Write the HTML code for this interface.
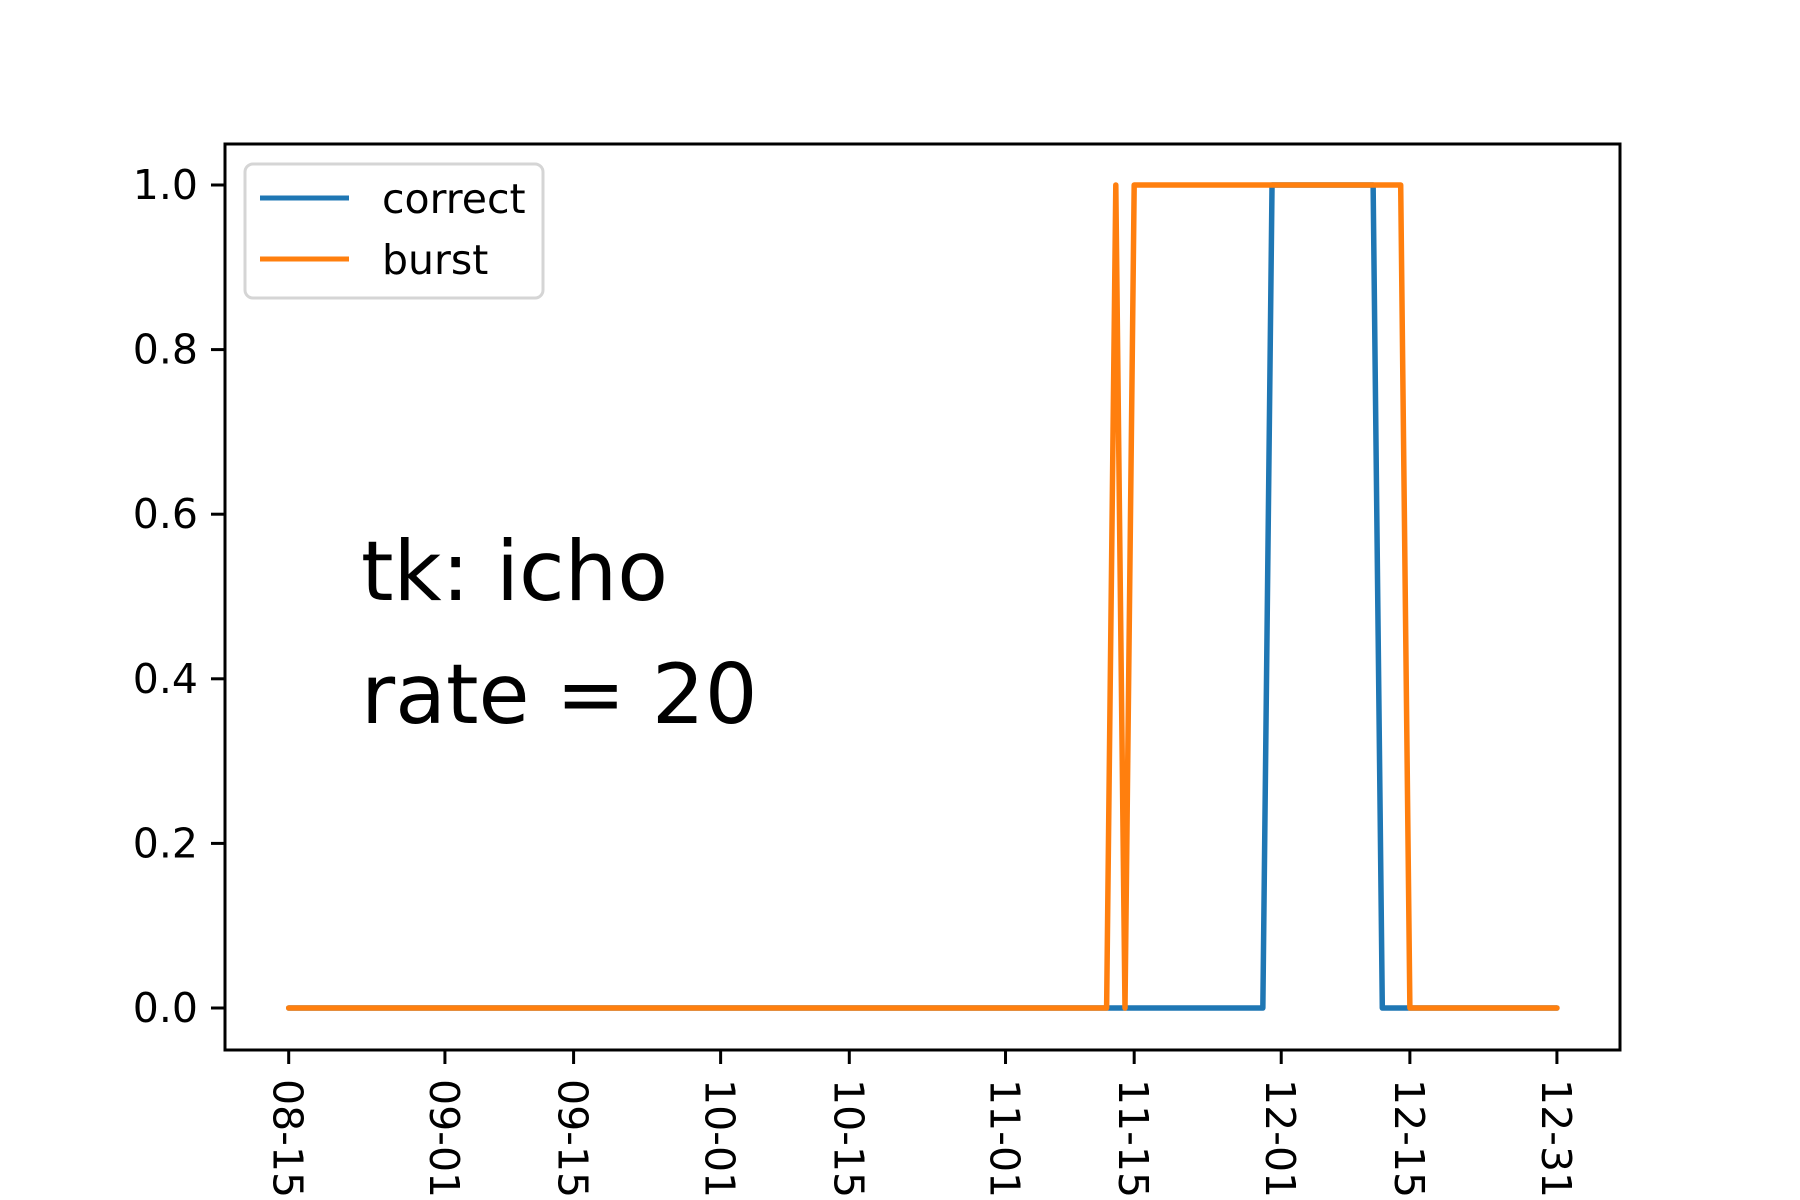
<!DOCTYPE html>
<html><head><meta charset="utf-8"><style>body{margin:0;background:#fff}svg{display:block}text{font-family:"DejaVu Sans","Liberation Sans",sans-serif}</style></head>
<body>
<svg id="chart" width="1800" height="1200" viewBox="0 0 1800 1200">
<rect x="0" y="0" width="1800" height="1200" fill="#fff"/>
<g id="plot"></g>
<rect x="225" y="144" width="1395" height="906" fill="none" stroke="#000" stroke-width="3"/>
<g>
<rect x="245" y="164" width="298" height="134" rx="8" fill="#fff" fill-opacity="0.8" stroke="#d5d5d5" stroke-width="3"/>
<line x1="260" y1="198" x2="349" y2="198" stroke="#1f77b4" stroke-width="5"/>
<text x="382" y="213" font-size="41">correct</text>
<line x1="260" y1="259" x2="349" y2="259" stroke="#ff7f0e" stroke-width="5"/>
<text x="382" y="274" font-size="41">burst</text>
</g>
<text x="361" y="600" font-size="83">tk: icho</text>
<text x="361" y="723" font-size="83">rate = 20</text>
</svg>
<script>
const xTickLabels = ["08-15","09-01","09-15","10-01","10-15","11-01","11-15","12-01","12-15","12-31"];
const xTickDays = [0,17,31,47,61,78,92,108,122,138];
const yTicks = [0,0.2,0.4,0.6,0.8,1.0];
const correctDays = [0,106,107,118,119,138];
const correctVals = [0,0,1,1,0,0];
const burstDays = [0,89,90,91,92,121,122,138];
const burstVals = [0,0,1,0,1,1,0,0];

const NS="http://www.w3.org/2000/svg";
const g=document.getElementById('plot');
const X=d=>288.7+d*9.19;
const Y=v=>1008-v*823;
function mk(t,a){const e=document.createElementNS(NS,t);for(const k in a)e.setAttribute(k,a[k]);return e;}
yTicks.forEach((v,i)=>{
  const l=mk('line',{x1:211,x2:225,y1:Y(v),y2:Y(v),stroke:'#000','stroke-width':3});
  
  
  g.appendChild(l);
  const t=mk('text',{x:198,y:Y(v)+14,'font-size':41,'text-anchor':'end'});
  t.textContent=v.toFixed(1);
  
  
  g.appendChild(t);
});
xTickDays.forEach((d,i)=>{
  const x=X(d);
  const l=mk('line',{x1:x,x2:x,y1:1050,y2:1064,stroke:'#000','stroke-width':3});
  
  
  g.appendChild(l);
  const t=mk('text',{x:0,y:0,'font-size':41,transform:`translate(${x-15},1079) rotate(90)`});
  t.textContent=xTickLabels[i];
  
  
  g.appendChild(t);
});
function series(days,vals,color,name){
  const p=mk('polyline',{points:days.map((d,i)=>X(d)+','+Y(vals[i])).join(' '),fill:'none',stroke:color,'stroke-width':5.5,'stroke-linejoin':'round','stroke-linecap':'round'});
  
  
  g.appendChild(p);
}
series(correctDays,correctVals,'#1f77b4','series-correct');
series(burstDays,burstVals,'#ff7f0e','series-burst');
</script>
</body></html>
